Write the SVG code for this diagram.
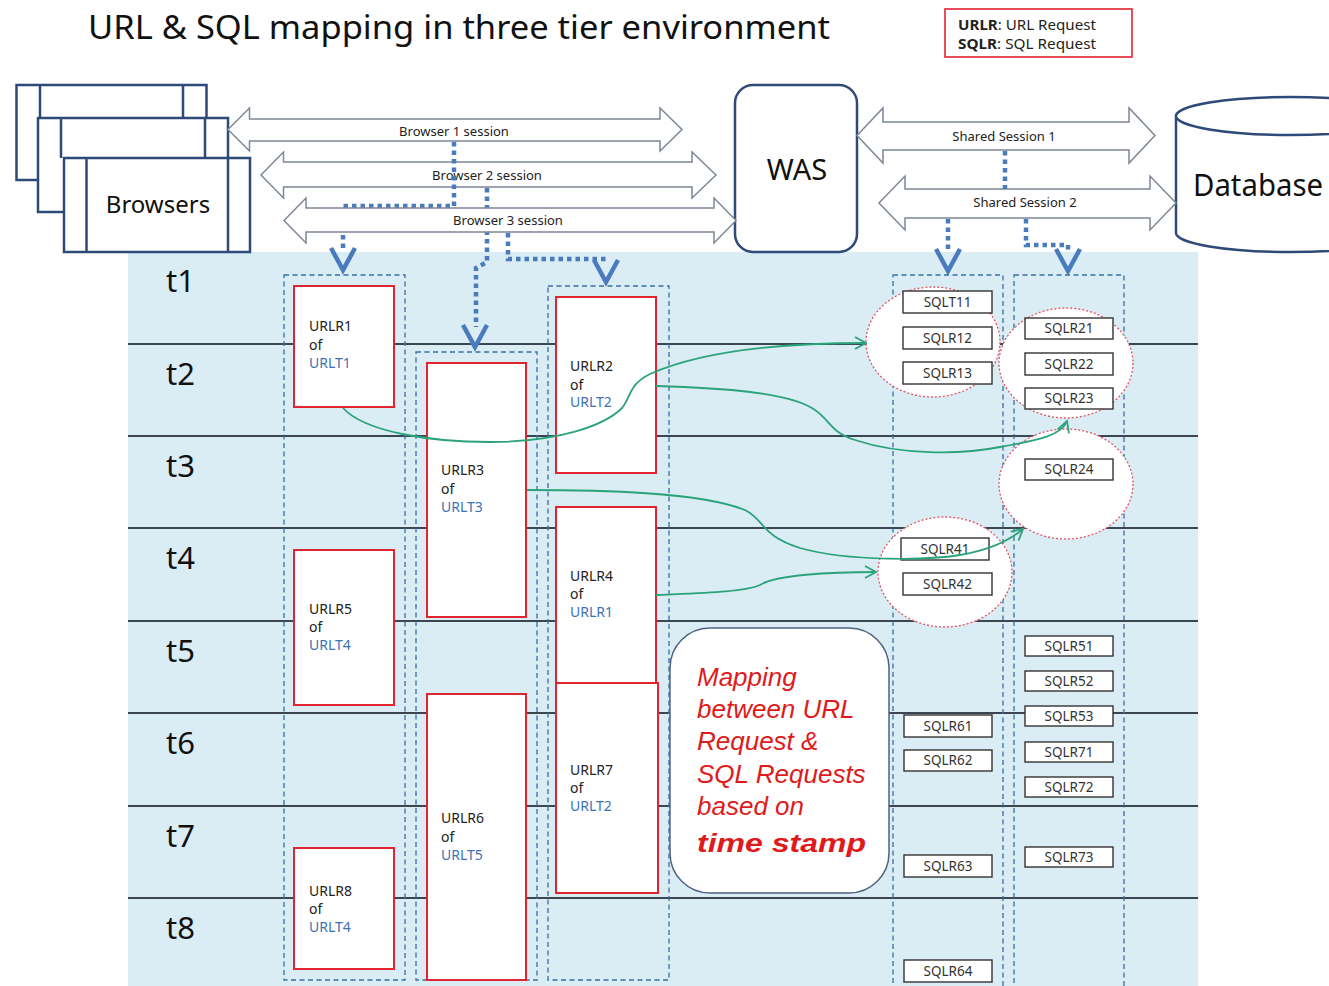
<svg xmlns="http://www.w3.org/2000/svg" width="1329" height="986" viewBox="0 0 1329 986">
  <style>
    text { font-family: "Noto Sans", "DejaVu Sans", sans-serif; }
    .frame { fill: #ffffff; stroke: #2e4a78; stroke-width: 2.5; }
    .frameline { stroke: #2e4a78; stroke-width: 2.5; fill: none; }
    .block { fill: #ffffff; stroke: #7d8796; stroke-width: 1.5; stroke-linejoin: miter; }
    .blocklabel { font-size: 13px; fill: #222; text-anchor: middle; }
    .dots { fill: none; stroke: #4a7bbd; stroke-width: 4.5; stroke-dasharray: 4.5 4; }
    .chev { fill: none; stroke: #4a7bbd; stroke-width: 4.5; stroke-linejoin: miter; }
    .row { stroke: #3c4650; stroke-width: 2; }
    .col { fill: none; stroke: #3a6ea5; stroke-width: 1.3; stroke-dasharray: 5 3.5; }
    .urlr { fill: #ffffff; stroke: #e02430; stroke-width: 2; }
    .ut { font-size: 14px; fill: #222; }
    .ub { font-size: 14px; fill: #3c72b4; }
    .group { fill: #ffffff; stroke: #e05462; stroke-width: 1.3; stroke-dasharray: 2 2; }
    .sqlr { fill: #ffffff; stroke: #333; stroke-width: 1.4; }
    .st { font-size: 13.5px; fill: #333; text-anchor: middle; }
    .tl { font-size: 31px; fill: #111; }
    .link { fill: none; stroke: #2ba37a; stroke-width: 1.8; }
    .note { font-family: "Liberation Sans", Arial, sans-serif; font-size: 26px; font-style: italic; fill: #e01a1a; }
  </style>
  <defs>
    <marker id="open" markerWidth="14" markerHeight="14" refX="0" refY="0" viewBox="-12 -7 14 14" orient="auto" markerUnits="userSpaceOnUse">
      <path d="M-11,-6 L0,0 L-11,6" fill="none" stroke="#2ba37a" stroke-width="1.8"/>
    </marker>
  </defs>

  <!-- timeline panel -->
  <rect x="128" y="252" width="1070" height="734" fill="#daecf4"/>
  <g id="rows">
    <line class="row" x1="128" y1="344" x2="1198" y2="344"/>
    <line class="row" x1="128" y1="436" x2="1198" y2="436"/>
    <line class="row" x1="128" y1="528" x2="1198" y2="528"/>
    <line class="row" x1="128" y1="621" x2="1198" y2="621"/>
    <line class="row" x1="128" y1="713" x2="1198" y2="713"/>
    <line class="row" x1="128" y1="806" x2="1198" y2="806"/>
    <line class="row" x1="128" y1="898" x2="1198" y2="898"/>
  </g>
  <g id="time-labels">
    <text class="tl" x="166" y="292">t1</text>
    <text class="tl" x="166" y="385">t2</text>
    <text class="tl" x="166" y="477">t3</text>
    <text class="tl" x="166" y="569">t4</text>
    <text class="tl" x="166" y="662">t5</text>
    <text class="tl" x="166" y="754">t6</text>
    <text class="tl" x="166" y="847">t7</text>
    <text class="tl" x="166" y="939">t8</text>
  </g>

  <!-- session lanes -->
  <g id="lanes">
    <rect class="col" x="284" y="275" width="121" height="705"/>
    <rect class="col" x="416" y="352" width="121" height="628"/>
    <rect class="col" x="548" y="286" width="121" height="694"/>
    <rect class="col" x="893" y="275" width="110" height="720"/>
    <rect class="col" x="1014" y="275" width="110" height="720"/>
  </g>

  <!-- SQL request groups -->
  <g id="sql-groups">
    <ellipse class="group" cx="933" cy="342" rx="67" ry="55"/>
    <ellipse class="group" cx="1066" cy="363" rx="67" ry="55"/>
    <ellipse class="group" cx="1066" cy="484" rx="67" ry="55"/>
    <ellipse class="group" cx="945" cy="572" rx="67" ry="55"/>
  </g>

  <!-- SQL requests -->
  <g id="sql-requests">
    <g id="SQLT11"><rect class="sqlr" x="903" y="291" width="89" height="22"/><text class="st" x="947.5" y="307">SQLT11</text></g>
    <g id="SQLR12"><rect class="sqlr" x="903" y="327" width="89" height="22"/><text class="st" x="947.5" y="343">SQLR12</text></g>
    <g id="SQLR13"><rect class="sqlr" x="903" y="362" width="89" height="22"/><text class="st" x="947.5" y="378">SQLR13</text></g>
    <g id="SQLR21"><rect class="sqlr" x="1025" y="318" width="88" height="21"/><text class="st" x="1069" y="333">SQLR21</text></g>
    <g id="SQLR22"><rect class="sqlr" x="1025" y="353" width="88" height="22"/><text class="st" x="1069" y="369">SQLR22</text></g>
    <g id="SQLR23"><rect class="sqlr" x="1025" y="388" width="88" height="21"/><text class="st" x="1069" y="403">SQLR23</text></g>
    <g id="SQLR24"><rect class="sqlr" x="1025" y="459" width="88" height="21"/><text class="st" x="1069" y="474">SQLR24</text></g>
    <g id="SQLR41"><rect class="sqlr" x="901" y="538" width="88" height="22"/><text class="st" x="945" y="554">SQLR41</text></g>
    <g id="SQLR42"><rect class="sqlr" x="903" y="573" width="89" height="22"/><text class="st" x="947.5" y="589">SQLR42</text></g>
    <g id="SQLR51"><rect class="sqlr" x="1025" y="636" width="88" height="20"/><text class="st" x="1069" y="651">SQLR51</text></g>
    <g id="SQLR52"><rect class="sqlr" x="1025" y="671" width="88" height="20"/><text class="st" x="1069" y="686">SQLR52</text></g>
    <g id="SQLR53"><rect class="sqlr" x="1025" y="706" width="88" height="20"/><text class="st" x="1069" y="721">SQLR53</text></g>
    <g id="SQLR71"><rect class="sqlr" x="1025" y="742" width="88" height="20"/><text class="st" x="1069" y="757">SQLR71</text></g>
    <g id="SQLR72"><rect class="sqlr" x="1025" y="777" width="88" height="20"/><text class="st" x="1069" y="792">SQLR72</text></g>
    <g id="SQLR73"><rect class="sqlr" x="1025" y="847" width="88" height="20"/><text class="st" x="1069" y="862">SQLR73</text></g>
    <g id="SQLR61"><rect class="sqlr" x="904" y="715" width="88" height="22"/><text class="st" x="948" y="731">SQLR61</text></g>
    <g id="SQLR62"><rect class="sqlr" x="904" y="750" width="88" height="21"/><text class="st" x="948" y="765">SQLR62</text></g>
    <g id="SQLR63"><rect class="sqlr" x="904" y="855" width="88" height="22"/><text class="st" x="948" y="871">SQLR63</text></g>
    <g id="SQLR64"><rect class="sqlr" x="904" y="960" width="88" height="22"/><text class="st" x="948" y="976">SQLR64</text></g>
  </g>

  <!-- URL requests -->
  <g id="URLR1"><rect class="urlr" x="294" y="286" width="100" height="121"/>
    <text class="ut" x="309" y="331">URLR1</text><text class="ut" x="309" y="350">of</text><text class="ub" x="309" y="368">URLT1</text></g>
  <g id="URLR3"><rect class="urlr" x="427" y="363" width="99" height="254"/>
    <text class="ut" x="441" y="475">URLR3</text><text class="ut" x="441" y="494">of</text><text class="ub" x="441" y="512">URLT3</text></g>
  <g id="URLR2"><rect class="urlr" x="556" y="297" width="100" height="176"/>
    <text class="ut" x="570" y="371">URLR2</text><text class="ut" x="570" y="390">of</text><text class="ub" x="570" y="407">URLT2</text></g>
  <g id="URLR4"><rect class="urlr" x="556" y="507" width="100" height="190"/>
    <text class="ut" x="570" y="581">URLR4</text><text class="ut" x="570" y="599">of</text><text class="ub" x="570" y="617">URLR1</text></g>
  <g id="URLR5"><rect class="urlr" x="294" y="550" width="100" height="155"/>
    <text class="ut" x="309" y="614">URLR5</text><text class="ut" x="309" y="632">of</text><text class="ub" x="309" y="650">URLT4</text></g>
  <g id="URLR6"><rect class="urlr" x="427" y="694" width="99" height="286"/>
    <text class="ut" x="441" y="823">URLR6</text><text class="ut" x="441" y="842">of</text><text class="ub" x="441" y="860">URLT5</text></g>
  <g id="URLR7"><rect class="urlr" x="556" y="683" width="102" height="210"/>
    <text class="ut" x="570" y="775">URLR7</text><text class="ut" x="570" y="793">of</text><text class="ub" x="570" y="811">URLT2</text></g>
  <g id="URLR8"><rect class="urlr" x="294" y="848" width="100" height="121"/>
    <text class="ut" x="309" y="896">URLR8</text><text class="ut" x="309" y="914">of</text><text class="ub" x="309" y="932">URLT4</text></g>

  <!-- note -->
  <g id="note">
    <rect x="670" y="628" width="219" height="265" rx="40" ry="40" fill="#ffffff" stroke="#4d6380" stroke-width="1.5"/>
    <text class="note" x="697" y="686">Mapping</text>
    <text class="note" x="697" y="718">between URL</text>
    <text class="note" x="697" y="750">Request &amp;</text>
    <text class="note" x="697" y="783">SQL Requests</text>
    <text class="note" x="697" y="815">based on</text>
    <text class="note" x="697" y="852" font-size="31" font-weight="bold" textLength="169" lengthAdjust="spacingAndGlyphs">time stamp</text>
  </g>

  <!-- URL to SQL mapping links -->
  <g id="links">
    <path class="link" marker-end="url(#open)" d="M343,408 C365,432 430,442 490,442 C560,442 605,425 622,408 C632,396 628,385 650,374 C700,352 780,343 866,343"/>
    <path class="link" marker-end="url(#open)" d="M656,386 C720,388 790,392 815,410 C830,420 830,432 855,440 C900,455 960,455 1000,447 C1040,440 1062,435 1067,421"/>
    <path class="link" marker-end="url(#open)" d="M527,490 C600,490 700,492 745,510 C765,520 760,535 800,548 C850,562 930,560 960,555 C990,550 1010,540 1023,529"/>
    <path class="link" marker-end="url(#open)" d="M656,595 C700,593 745,592 760,585 C775,575 830,572 876,572"/>
  </g>

  <!-- title and legend -->
  <text x="88" y="39" font-size="32" fill="#111" textLength="742" lengthAdjust="spacingAndGlyphs">URL &amp; SQL mapping in three tier environment</text>
  <g id="legend">
    <rect x="945" y="9" width="187" height="48" fill="#ffffff" stroke="#e02430" stroke-width="1.6"/>
    <text x="958" y="30" font-size="13.5" fill="#222" textLength="138" lengthAdjust="spacingAndGlyphs"><tspan font-weight="bold">URLR</tspan>: URL Request</text>
    <text x="958" y="49" font-size="13.5" fill="#222" textLength="138" lengthAdjust="spacingAndGlyphs"><tspan font-weight="bold">SQLR</tspan>: SQL Request</text>
  </g>

  <!-- browsers -->
  <g id="browsers">
    <rect class="frame" x="16.5" y="85" width="190" height="95"/>
    <line class="frameline" x1="40" y1="85" x2="40" y2="118"/>
    <line class="frameline" x1="183" y1="85" x2="183" y2="118"/>
    <rect class="frame" x="38" y="118" width="190" height="94"/>
    <line class="frameline" x1="61" y1="118" x2="61" y2="158"/>
    <line class="frameline" x1="205" y1="118" x2="205" y2="158"/>
    <rect class="frame" x="64" y="158" width="186" height="94"/>
    <line class="frameline" x1="86.5" y1="158" x2="86.5" y2="252"/>
    <line class="frameline" x1="228" y1="158" x2="228" y2="252"/>
    <text x="158" y="213" font-size="24" fill="#111" text-anchor="middle">Browsers</text>
  </g>

  <!-- web application server -->
  <g id="WAS">
    <rect class="frame" x="735" y="85" width="122" height="167" rx="18" ry="18"/>
    <text x="797" y="180" font-size="29" fill="#111" text-anchor="middle">WAS</text>
  </g>

  <!-- database -->
  <g id="database">
    <path class="frame" d="M1176,116 V233 A114,19 0 0 0 1404,233 V116"/>
    <ellipse class="frame" cx="1290" cy="116" rx="114" ry="19"/>
    <text x="1193" y="196" font-size="30" fill="#111" textLength="130" lengthAdjust="spacingAndGlyphs">Database</text>
  </g>

  <!-- sessions -->
  <g id="connectors">
    <g id="browser1-session">
      <polygon class="block" points="228,129.5 249.5,108 249.5,119 660,119 660,108 682,129.5 660,151 660,141 249.5,141 249.5,151"/>
      <text class="blocklabel" x="454" y="136">Browser 1 session</text>
    </g>
    <g id="browser2-session">
      <polygon class="block" points="261,175 283.5,152 283.5,162 692,162 692,152 716,175 692,198 692,187 283.5,187 283.5,198"/>
      <text class="blocklabel" x="487" y="180">Browser 2 session</text>
    </g>
    <g id="shared-session1">
      <polygon class="block" points="857,135.5 883,108 883,122 1129,122 1129,108 1155,135.5 1129,163 1129,150 883,150 883,163"/>
      <text class="blocklabel" x="1004" y="141">Shared Session 1</text>
    </g>
    <g id="shared-session2">
      <polygon class="block" points="879,203 905,176 905,189 1150,189 1150,176 1176,203 1150,230 1150,218 905,218 905,230"/>
      <text class="blocklabel" x="1025" y="207">Shared Session 2</text>
    </g>

    <path class="dots" d="M454,142 V206 H343 V248"/>
    <path class="dots" d="M487,188 V262 L476,268 V327"/>
    <path class="dots" d="M1005,151 V189"/>
    <path class="dots" d="M948,219 V250"/>
    <path class="dots" d="M1026,219 V245 H1068 V250"/>

    <g id="browser3-session">
      <polygon class="block" points="284,220.5 306,198 306,208 714,208 714,198 736,220.5 714,243 714,232 306,232 306,243"/>
      <text class="blocklabel" x="508" y="225">Browser 3 session</text>
    </g>
    <path class="dots" d="M508,233 V259 H606 V262"/>

    <polyline class="chev" points="331,248 343,270 355,248"/>
    <polyline class="chev" points="463,325 475,347 487,325"/>
    <polyline class="chev" points="594,260 606,282 618,260"/>
    <polyline class="chev" points="936,249 948,271 960,249"/>
    <polyline class="chev" points="1056,249 1068,271 1080,249"/>
  </g>
</svg>
